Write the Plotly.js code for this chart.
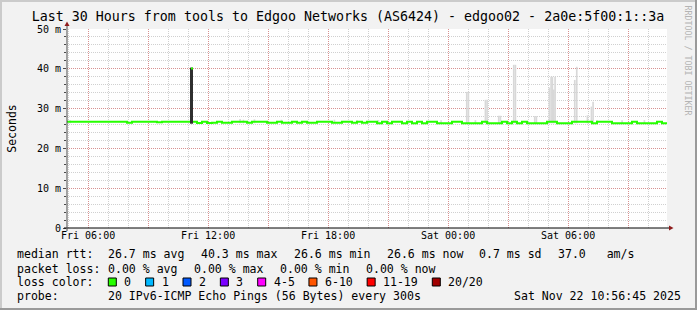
<!DOCTYPE html>
<html>
<head>
<meta charset="utf-8">
<script src="https://cdn.plot.ly/plotly-3.0.1.min.js"></script>
<style>
  html, body { margin: 0; padding: 0; background: #f2f2f2; }
  #wrap { position: relative; width: 697px; height: 310px; overflow: hidden; }
  #chart { position: absolute; left: 0; top: 0; width: 697px; height: 310px; }
  .edge { position: absolute; }
</style>
</head>
<body>
<div id="wrap">
  <div id="chart"></div>
  <div class="edge" style="left:0;top:0;width:697px;height:2px;background:#cbcbcb"></div>
  <div class="edge" style="left:0;top:0;width:2px;height:310px;background:#cbcbcb"></div>
  <div class="edge" style="left:695px;top:0;width:2px;height:310px;background:#9a9a9a"></div>
  <div class="edge" style="left:0;top:308px;width:697px;height:2px;background:#9a9a9a"></div>
</div>
<script>
// ---------------- DATA ----------------
const chartTitle = 'Last 30 Hours from tools to Edgoo Networks (AS6424) - edgoo02 - 2a0e:5f00:1::3a';
const startTime = '2025-11-21T04:56:45Z';
const endTime   = '2025-11-22T10:56:45Z';
const medianStepMinutes = 15;

// median RTT (ms), one value per 15-minute block
const medianRtt = [
  26.7, 26.7, 26.7, 26.7, 26.7, 26.7, 26.7, 26.7, 26.7, 26.7,
  26.7, 26.7, 26.45, 26.7, 26.7, 26.7, 26.7, 26.7, 26.6, 26.7,
  26.7, 26.7, 26.7, 26.7, 26.7, 26.7, 26.4, 26.7, 26.4, 26.45,
  26.7, 26.45, 26.45, 26.7, 26.7, 26.7, 26.45, 26.7, 26.7, 26.7,
  26.45, 26.45, 26.7, 26.45, 26.45, 26.7, 26.45, 26.7, 26.45, 26.45,
  26.7, 26.7, 26.7, 26.45, 26.45, 26.7, 26.7, 26.45, 26.7, 26.45,
  26.7, 26.7, 26.35, 26.7, 26.35, 26.7, 26.7, 26.35, 26.7, 26.35,
  26.7, 26.35, 26.7, 26.7, 26.35, 26.35, 26.35, 26.7, 26.7, 26.35,
  26.35, 26.35, 26.35, 26.7, 26.35, 26.35, 26.35, 26.7, 26.35, 26.7,
  26.35, 26.7, 26.35, 26.35, 26.35, 26.35, 26.7, 26.7, 26.35, 26.35,
  26.35, 26.7, 26.7, 26.7, 26.7, 26.35, 26.7, 26.7, 26.7, 26.35,
  26.35, 26.35, 26.35, 26.7, 26.35, 26.35, 26.35, 26.35, 26.7, 26.35
];

// smoke (ping spread) samples: time and max RTT (ms)
const smokeTimes = [
  '2025-11-21 05:06', '2025-11-21 13:36', '2025-11-21 13:46', '2025-11-21 14:19',
  '2025-11-21 15:40', '2025-11-21 18:19', '2025-11-21 19:27', '2025-11-21 20:31',
  '2025-11-21 23:39', '2025-11-22 00:56', '2025-11-22 01:01', '2025-11-22 01:22',
  '2025-11-22 01:52', '2025-11-22 01:57', '2025-11-22 02:32', '2025-11-22 02:37',
  '2025-11-22 03:17', '2025-11-22 03:22', '2025-11-22 04:20', '2025-11-22 04:25',
  '2025-11-22 05:04', '2025-11-22 05:09', '2025-11-22 05:13', '2025-11-22 05:17',
  '2025-11-22 05:21', '2025-11-22 06:20', '2025-11-22 06:26', '2025-11-22 06:58',
  '2025-11-22 07:10', '2025-11-22 07:15', '2025-11-22 07:27', '2025-11-22 08:42',
  '2025-11-22 09:49'
];
const smokeMax = [
  27.1, 27.4, 27.2, 27.3, 27.2, 27.2, 27.1, 27.1,
  27.1, 34.2, 34.2, 27.1, 32.2, 32.2, 28.2, 28.2,
  41.0, 41.0, 28.1, 28.1, 35.3, 38.0, 38.0, 34.8,
  38.0, 37.2, 40.5, 28.3, 30.5, 31.7, 27.1, 27.1,
  27.1
];
const smokeFloor = 26.3;

// the latency spike on Friday late morning
const spikeTimes = ['2025-11-21 11:05:45', '2025-11-21 11:14:45'];
const spikeLow = 26.2;
const spikeMax = 40.3;
const spikeMedianTimes = ['2025-11-21 11:08:45', '2025-11-21 11:14:45'];
const spikeMedian = 40.1;

// axis ticks
const xTickVals = ['2025-11-21 06:00', '2025-11-21 09:00', '2025-11-21 12:00', '2025-11-21 15:00',
                   '2025-11-21 18:00', '2025-11-21 21:00', '2025-11-22 00:00', '2025-11-22 03:00',
                   '2025-11-22 06:00', '2025-11-22 09:00'];
const xTickText = ['Fri 06:00', '', 'Fri 12:00', '', 'Fri 18:00', '', 'Sat 00:00', '', 'Sat 06:00', ''];
const yTickVals = [0, 10, 20, 30, 40, 50];
const yTickText = ['0', '10 m', '20 m', '30 m', '40 m', '50 m'];

// legend texts
const rttLabel = 'median rtt:';
const rttStats = ['26.7 ms avg', '40.3 ms max', '26.6 ms min', '26.6 ms now', '0.7 ms sd', '37.0   am/s'];
const lossLabel = 'packet loss:';
const lossStats = ['0.00 % avg', '0.00 % max', '0.00 % min', '0.00 % now'];
const lossColorLabel = 'loss color:';
const lossColorNames = ['0', '1', '2', '3', '4-5', '6-10', '11-19', '20/20'];
const lossColors = ['#26ff00', '#00b8ff', '#0059ff', '#7a00ff', '#ff00ff', '#ff5500', '#ff0000', '#a10000'];
const probeLabel = 'probe:';
const probeText = '20 IPv6-ICMP Echo Pings (56 Bytes) every 300s';
const stampText = 'Sat Nov 22 10:56:45 2025';
const sideText = 'RRDTOOL / TOBI OETIKER';

// ---------------- BUILD ----------------
const W = 697, H = 310;
const PL = 67, PR = 667, PT = 29, PB = 228;
const px2x = p => (p - PL) / (PR - PL);
const py2y = p => (PB - p) / (PB - PT);
const MONO = 'DejaVu Sans Mono';

const t0 = Date.parse(startTime), t1 = Date.parse(endTime);
const stepMs = medianStepMinutes * 60000;
const medX = medianRtt.map((_, i) => t0 + i * stepMs);
const medY = medianRtt.slice();
medX.push(t1); medY.push(medianRtt[medianRtt.length - 1]);

const traces = [
  { // smoke
    type: 'bar', x: smokeTimes, y: smokeMax.map(v => v - smokeFloor), base: smokeFloor,
    width: 5 * 60000, marker: { color: '#d8d8d8', line: { width: 0 } },
    hoverinfo: 'skip', showlegend: false
  },
  { // median
    type: 'scatter', mode: 'lines', x: medX, y: medY,
    line: { color: '#26ff00', width: 2, shape: 'hv' }, hoverinfo: 'skip', showlegend: false
  },
  { // spike spread
    type: 'scatter', mode: 'lines',
    x: [spikeTimes[0], spikeTimes[0], spikeTimes[1], spikeTimes[1]],
    y: [spikeLow, spikeMax, spikeMax, spikeLow],
    fill: 'toself', fillcolor: '#2e2e2e', line: { width: 0, color: '#2e2e2e' },
    hoverinfo: 'skip', showlegend: false
  },
  { // spike median
    type: 'scatter', mode: 'lines', x: spikeMedianTimes, y: [spikeMedian, spikeMedian],
    line: { color: '#26ff00', width: 2 }, hoverinfo: 'skip', showlegend: false
  }
];

const annotations = [];
const shapes = [];
const LF = 11.55, CW = 6.95, GAP = 16.3;
function txt(text, px, py, opts) {
  annotations.push(Object.assign({
    text: text, xref: 'paper', yref: 'paper', x: px2x(px), y: py2y(py),
    xanchor: 'left', yanchor: 'middle', showarrow: false, borderpad: 0,
    font: { family: MONO, size: LF, color: '#000' }
  }, opts || {}));
}
const rows = [254, 268.5, 282, 296];
txt(rttLabel, 16, rows[0]);
let cx = 107.3;
rttStats.forEach(s => { txt(s, cx, rows[0]); cx += s.length * CW + GAP; });
txt(lossLabel, 16, rows[1]);
cx = 107.3;
lossStats.forEach(s => { txt(s, cx, rows[1]); cx += s.length * CW + GAP; });
txt(lossColorLabel, 16, rows[2]);
cx = 108.3;
lossColorNames.forEach((n, i) => {
  shapes.push({ type: 'rect', xref: 'paper', yref: 'paper',
    x0: px2x(cx), x1: px2x(cx + 8), y0: py2y(278), y1: py2y(286),
    fillcolor: lossColors[i], line: { color: '#000', width: 1 }, layer: 'above' });
  txt(n, cx + 15, rows[2]);
  cx += 15 + n.length * CW + 15.4;
});
txt(probeLabel, 16, rows[3]);
txt(probeText, 107.3, rows[3]);
txt(stampText, 513.3, rows[3]);
txt(sideText, 687.5, 60, { textangle: 90, xanchor: 'center', yanchor: 'middle',
  font: { family: MONO, size: 8.3, color: '#b4b4b4' } });

// axis lines and arrows
shapes.push({ type: 'line', xref: 'paper', yref: 'paper', x0: px2x(64), x1: px2x(669), y0: 0, y1: 0,
  line: { color: '#000', width: 1 }, layer: 'above' });
shapes.push({ type: 'line', xref: 'paper', yref: 'paper', x0: 0, x1: 0, y0: py2y(231), y1: py2y(25),
  line: { color: '#4a4a4a', width: 1 }, layer: 'above' });
shapes.push({ type: 'path', xref: 'paper', yref: 'paper',
  path: `M ${px2x(669)} ${py2y(225.5)} L ${px2x(673.5)} ${py2y(228)} L ${px2x(669)} ${py2y(230.5)} Z`,
  fillcolor: '#8e1c1c', line: { width: 0 }, layer: 'above' });
shapes.push({ type: 'path', xref: 'paper', yref: 'paper',
  path: `M ${px2x(64.5)} ${py2y(26)} L ${px2x(67)} ${py2y(21.5)} L ${px2x(69.5)} ${py2y(26)} Z`,
  fillcolor: '#8e1c1c', line: { width: 0 }, layer: 'above' });

const MGRID = 'rgba(220,110,110,0.65)';
const GRID = 'rgba(150,150,150,0.45)';
const layout = {
  width: W, height: H,
  margin: { l: PL, r: W - PR, t: PT, b: H - PB, pad: 0 },
  paper_bgcolor: 'rgba(0,0,0,0)', plot_bgcolor: '#ffffff',
  showlegend: false,
  title: { text: chartTitle, font: { family: MONO, size: 13.3, color: '#000' },
    xref: 'container', yref: 'container', x: 348 / W, xanchor: 'center',
    y: 1 - 16 / H, yanchor: 'middle' },
  xaxis: {
    type: 'date', range: [t0, t1], tickmode: 'array', tickvals: xTickVals, ticktext: xTickText,
    showgrid: true, gridcolor: MGRID, griddash: '1px,1px', gridwidth: 1,
    minor: { tickmode: 'linear', tick0: '2025-11-21 00:00', dtick: 3600000, showgrid: true,
      gridcolor: GRID, griddash: '1px,1px', gridwidth: 1, ticks: '' },
    ticks: '', showline: false, zeroline: false, fixedrange: true,
    tickfont: { family: MONO, size: 10, color: '#000' }
  },
  yaxis: {
    range: [0, 50], tickmode: 'array', tickvals: yTickVals, ticktext: yTickText,
    showgrid: true, gridcolor: MGRID, griddash: '1px,1px', gridwidth: 1,
    minor: { tickmode: 'linear', tick0: 0, dtick: 2, showgrid: true, gridcolor: GRID,
      griddash: '1px,1px', gridwidth: 1, ticks: 'outside', ticklen: 2, tickcolor: '#4a4a4a' },
    ticks: 'outside', ticklen: 3, tickcolor: '#4a4a4a', tickwidth: 1,
    showline: false, zeroline: false, fixedrange: true,
    tickfont: { family: MONO, size: 10, color: '#000' },
    title: { text: 'Seconds', font: { family: MONO, size: 11.5, color: '#000' }, standoff: 17 }
  },
  annotations: annotations,
  shapes: shapes
};

Plotly.newPlot('chart', traces, layout, { staticPlot: true, displayModeBar: false });
</script>
</body>
</html>
